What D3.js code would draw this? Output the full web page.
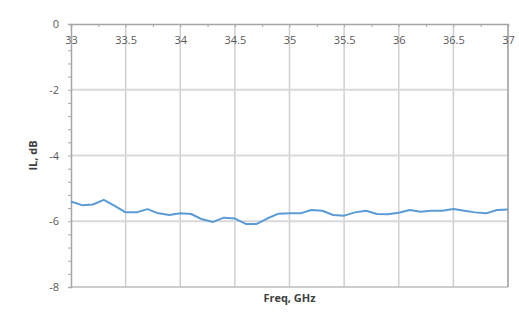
<!DOCTYPE html>
<html>
<head>
<meta charset="UTF-8">
<script src="https://cdn.jsdelivr.net/npm/d3@7"></script>
<style>
  body { margin: 0; background: #fff; }
  svg text { font-family: "Open Sans", sans-serif; }
</style>
</head>
<body>
<div id="chart"></div>
<script>
// insertion loss readings
const freq = [33.0, 33.1, 33.2, 33.3, 33.4, 33.5, 33.6, 33.7, 33.8, 33.9,
              34.0, 34.1, 34.2, 34.3, 34.4, 34.5, 34.6, 34.7, 34.8, 34.9,
              35.0, 35.1, 35.2, 35.3, 35.4, 35.5, 35.6, 35.7, 35.8, 35.9,
              36.0, 36.1, 36.2, 36.3, 36.4, 36.5, 36.6, 36.7, 36.8, 36.9, 37.0]
const il = [-5.40, -5.51, -5.49, -5.35, -5.53, -5.73, -5.73, -5.63, -5.76, -5.81,
            -5.76, -5.78, -5.94, -6.02, -5.89, -5.92, -6.08, -6.08, -5.91, -5.77,
            -5.76, -5.76, -5.66, -5.68, -5.81, -5.83, -5.73, -5.68, -5.78, -5.79,
            -5.74, -5.66, -5.71, -5.68, -5.68, -5.63, -5.68, -5.73, -5.76, -5.66, -5.64]
const xTicks = [33, 33.5, 34, 34.5, 35, 35.5, 36, 36.5, 37]
const xMinor = [33.25, 33.75, 34.25, 34.75, 35.25, 35.75, 36.25, 36.75]
const yTicks = [0, -2, -4, -6, -8]
const yMinor = [-0.4, -0.8, -1.2, -1.6, -2.4, -2.8, -3.2, -3.6, -4.4, -4.8, -5.2, -5.6,
                -6.4, -6.8, -7.2, -7.6]

var W = 519, H = 320
var m = { left: 71, right: 11, top: 24, bottom: 33 }

var svg = d3.select("#chart").append("svg").attr("width", W).attr("height", H)

var x = d3.scaleLinear().domain([33, 37]).range([m.left, W - m.right])
var y = d3.scaleLinear().domain([0, -8]).range([m.top, H - m.bottom])

// grid
svg.append("g").selectAll("line").data(xTicks.slice(1)).join("line")
  .attr("x1", d => x(d)).attr("x2", d => x(d))
  .attr("y1", y(0)).attr("y2", y(-8))
  .attr("stroke", "#cfcfcf").attr("stroke-width", 1.5)
svg.append("g").selectAll("line").data(yTicks.slice(1, -1)).join("line")
  .attr("x1", x(33)).attr("x2", x(37))
  .attr("y1", d => y(d)).attr("y2", d => y(d))
  .attr("stroke", "#d9d9d9").attr("stroke-width", 2)

// frame lines (bottom, right)
svg.append("line").attr("x1", x(33)).attr("x2", x(37)).attr("y1", y(-8)).attr("y2", y(-8))
  .attr("stroke", "#bdbdbd").attr("stroke-width", 1.5)
svg.append("line").attr("x1", x(37)).attr("x2", x(37)).attr("y1", y(0)).attr("y2", y(-8))
  .attr("stroke", "#a6a6a6").attr("stroke-width", 1.5)

// top x axis, labels sit inside the plot
var xAxis = svg.append("g").attr("transform", `translate(0,${y(0)})`)
  .call(d3.axisBottom(x).tickValues(xTicks).tickSize(3).tickFormat(d => String(d)))
xAxis.select(".domain").attr("stroke", "#a6a6a6").attr("stroke-width", 1.5)
xAxis.selectAll(".tick line").attr("stroke", "#a6a6a6")
xAxis.selectAll("text").attr("fill", "#595959").attr("font-size", 11).attr("dy", "1.25em")
svg.append("g").attr("transform", `translate(0,${y(0)})`)
  .call(d3.axisBottom(x).tickValues(xMinor).tickSize(3).tickFormat(""))
  .call(g => g.select(".domain").remove())
  .selectAll("line").attr("stroke", "#a6a6a6")

// y axis
var yAxis = svg.append("g").attr("transform", `translate(${x(33)},0)`)
  .call(d3.axisLeft(y).tickValues(yTicks).tickSize(3).tickPadding(9).tickFormat(d => String(d)))
yAxis.select(".domain").attr("stroke", "#a6a6a6").attr("stroke-width", 1.5)
yAxis.selectAll(".tick line").attr("stroke", "#a6a6a6")
yAxis.selectAll("text").attr("fill", "#595959").attr("font-size", 11)
svg.append("g").attr("transform", `translate(${x(33)},0)`)
  .call(d3.axisLeft(y).tickValues(yMinor).tickSize(3).tickFormat(""))
  .call(g => g.select(".domain").remove())
  .selectAll("line").attr("stroke", "#a6a6a6")

// series
svg.append("path").datum(d3.zip(freq, il))
  .attr("fill", "none").attr("stroke", "#5b9bd5").attr("stroke-width", 2)
  .attr("stroke-linejoin", "round")
  .attr("d", d3.line().x(d => x(d[0])).y(d => y(d[1])))

// titles
svg.append("text").attr("x", (x(33) + x(37)) / 2).attr("y", 302)
  .attr("text-anchor", "middle").attr("font-size", 11).attr("font-weight", "bold")
  .attr("fill", "#404040").text("Freq, GHz")
svg.append("text").attr("transform", `translate(37,${(y(0) + y(-8)) / 2}) rotate(-90)`)
  .attr("text-anchor", "middle").attr("font-size", 11).attr("font-weight", "bold")
  .attr("fill", "#404040").text("IL, dB")
</script>
</body>
</html>
